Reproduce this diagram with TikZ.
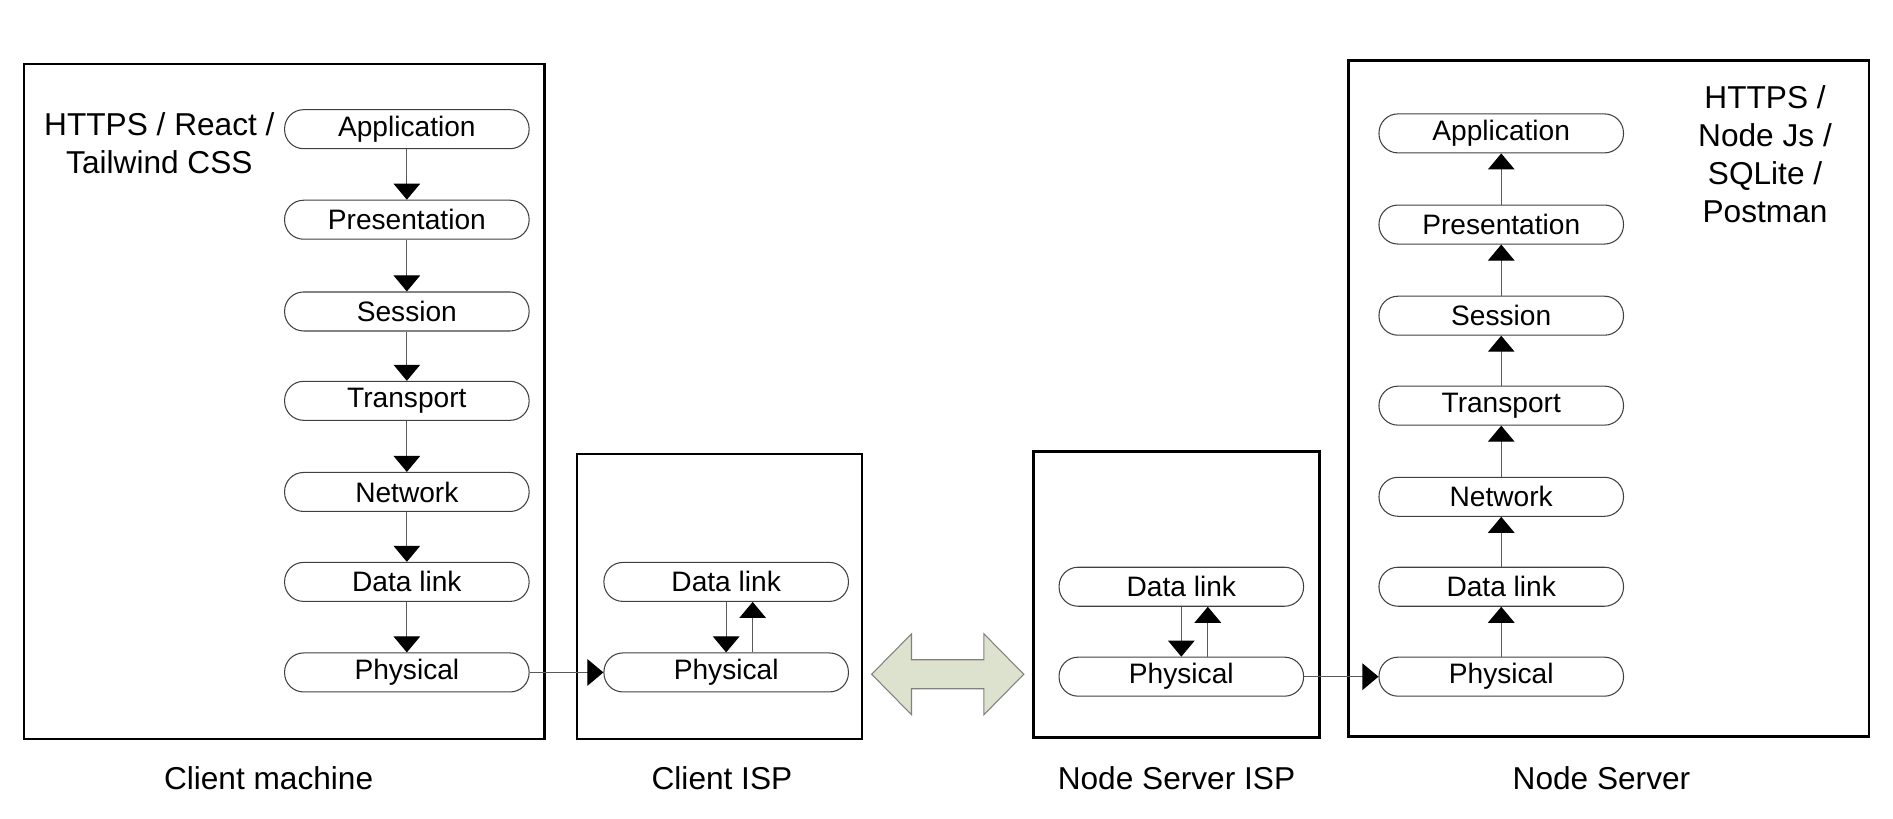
\documentclass[tikz,border=0pt]{standalone}
\usepackage{fontspec}
\setmainfont{Liberation Sans}
\usepackage{xcolor}
\usetikzlibrary{arrows.meta}

\definecolor{linkfill}{RGB}{221,226,206}

\begin{document}
\begin{tikzpicture}[x=0.24146mm, y=-0.24146mm,
    layer/.style={draw=black!75, line width=0.6pt, rounded corners=3.8mm, minimum width=48.9mm, minimum height=7.8mm, inner sep=0pt, font=\fontsize{16}{19}\selectfont},
    box/.style={draw, line width=1.4pt},
    caption/.style={font=\fontsize{18}{21.6}\selectfont, align=center},
    flow/.style={draw=black!65, line width=0.6pt, -{Triangle[width=5.3mm, length=3.2mm, color=black]}}]
    \useasboundingbox (0,0) rectangle (1568,678);

    % the four boxes
    \draw[box] (20,53) rectangle (451,612);
    \draw[box] (478,376) rectangle (714,612);
    \draw[box] (856,374) rectangle (1093,611);
    \draw[box] (1117,50) rectangle (1548,610);

    % client machine stack
    \foreach \n/\t/\y in {app/Application/107, pres/Presentation/182, sess/Session/258, trans/Transport/332, net/Network/407.5, dl/Data link/482, ph/Physical/557}
        \node[layer] (c\n) at (337,\y) {\t};
    \foreach \a/\b in {app/pres, pres/sess, sess/trans, trans/net, net/dl, dl/ph}
        \draw[flow] (c\a) -- (c\b);

    % node server stack
    \foreach \n/\t/\y in {app/Application/110.5, pres/Presentation/186, sess/Session/261.5, trans/Transport/336, net/Network/411.5, dl/Data link/486, ph/Physical/560.5}
        \node[layer] (s\n) at (1243.5,\y) {\t};
    \foreach \a/\b in {app/pres, pres/sess, sess/trans, trans/net, net/dl, dl/ph}
        \draw[flow] (s\b) -- (s\a);

    % ISPs
    \node[layer] (idl) at (601.5,482) {Data link};
    \node[layer] (iph) at (601.5,557) {Physical};
    \node[layer] (ndl) at (978.5,486) {Data link};
    \node[layer] (nph) at (978.5,560.5) {Physical};
    \draw[flow] (idl) -- (iph);
    \draw[flow] ([xshift=5.3mm]iph.north) -- ([xshift=5.3mm]idl.south);
    \draw[flow] (ndl) -- (nph);
    \draw[flow] ([xshift=5.3mm]nph.north) -- ([xshift=5.3mm]ndl.south);

    \draw[flow] (cph) -- (iph);
    \draw[flow] (nph) -- (sph);

    % link between the ISPs
    \draw[draw=black!50, line width=0.6pt, fill=linkfill] (722,558.5) -- (755,525) -- (755,546.5) -- (815,546.5) -- (815,525) -- (848,558.5) -- (815,592) -- (815,570.5) -- (755,570.5) -- (755,592) -- cycle;

    \node[caption] (ctech) at (132,118.5) {HTTPS / React /\\Tailwind CSS};
    \node[caption] (stech) at (1462,128) {HTTPS /\\Node Js /\\SQLite /\\Postman};

    \node[caption] (cname) at (222.5,645) {Client machine};
    \node[caption] (ciname) at (598,645) {Client ISP};
    \node[caption] (niname) at (974.5,645) {Node Server ISP};
    \node[caption] (sname) at (1326.5,645) {Node Server};
\end{tikzpicture}
\end{document}
